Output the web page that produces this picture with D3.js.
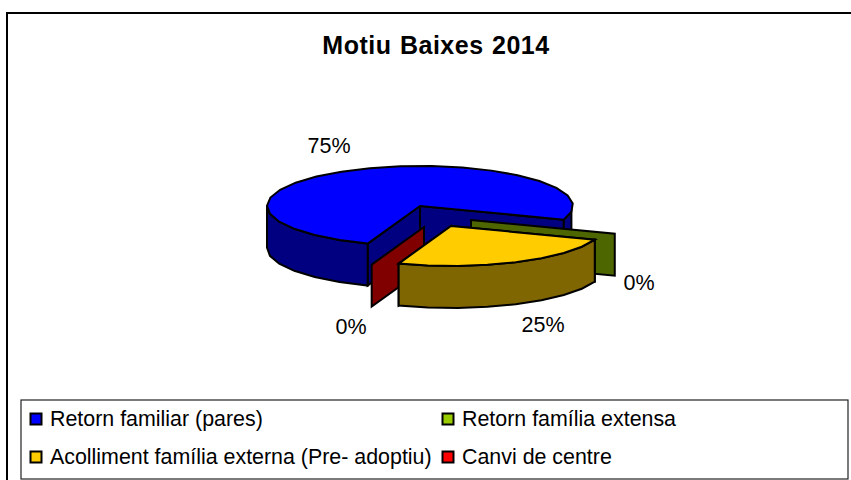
<!DOCTYPE html>
<html><head><meta charset="utf-8">
<script src="https://cdn.jsdelivr.net/npm/d3@7/dist/d3.min.js"></script>
<style>html,body{margin:0;padding:0;background:#fff}svg{display:block}text{font-family:"Liberation Sans",Arial,sans-serif;fill:#000}</style>
</head><body><svg id="c" width="851" height="480"></svg>
<script>
const chartTitle = "Motiu Baixes 2014";
const categories = ["Retorn familiar (pares)", "Retorn família extensa", "Acolliment família externa (Pre- adoptiu)", "Canvi de centre"];
const values = [75, 0, 25, 0];
const valueLabels = ["75%", "0%", "25%", "0%"];
const topColors = ["#0000FF", "#99CC00", "#FFCC00", "#FF0000"];
const sideColors = ["#000080", "#4D6600", "#806600", "#800000"];

const W = 851, H = 480;
const svg = d3.select("#c");
const cx = 420, cy = 206, rx = 153, ry = 40, depth = 42;
const offsets = [[0,0],[51,14],[31,20],[4,21]];
const labelPos = [[329,153],[639,290],[543,332],[351,334]];

const pie = d3.pie().sort(null).value(d => d)
  .startAngle(200 * Math.PI / 180).endAngle((200 + 360) * Math.PI / 180);
const arcs = pie(values);

const px = d3.scaleLinear().domain([-1, 1]).range([cx - rx, cx + rx]);
const py = d3.scaleLinear().domain([-1, 1]).range([cy - ry, cy + ry]);
const pt = (a, o, z = 0) => [px(Math.sin(a)) + o[0], py(-Math.cos(a)) + o[1] + z];
const centre = (o, z = 0) => [px(0) + o[0], py(0) + o[1] + z];
const rimAngles = (a0, a1) => {
  const n = Math.max(1, Math.round((a1 - a0) / (12 * Math.PI / 180)));
  return d3.range(n + 1).map(i => a0 + (a1 - a0) * i / n);
};
const line = d3.line();
const poly = (g, pts, fill) => g.append("path").attr("d", line(pts) + "Z")
  .attr("fill", fill).attr("stroke", "#000").attr("stroke-width", 2).attr("stroke-linejoin", "miter");

svg.append("rect").attr("x", 7).attr("y", 13).attr("width", W + 20).attr("height", H + 20)
  .attr("fill", "#fff").attr("stroke", "#000").attr("stroke-width", 2);

svg.append("text").attr("x", 436).attr("y", 54).attr("text-anchor", "middle")
  .attr("font-size", 25).attr("font-weight", "bold").attr("letter-spacing", 0.5).attr("word-spacing", 1).text(chartTitle);

const g = svg.append("g");

function drawSlice(i) {
  const d = arcs[i], o = offsets[i], top = topColors[i], side = sideColors[i];
  if (d.endAngle - d.startAngle < 1e-6) {
    poly(g, [centre(o), pt(d.startAngle, o), pt(d.startAngle, o, depth), centre(o, depth)], side);
    return;
  }
  const rim = rimAngles(d.startAngle, d.endAngle);
  poly(g, [centre(o), pt(d.endAngle, o), pt(d.endAngle, o, depth), centre(o, depth)], side);
  poly(g, [centre(o), pt(d.startAngle, o), pt(d.startAngle, o, depth), centre(o, depth)], side);
  const runs = [];
  let cur = [];
  rim.forEach(a => { if (Math.cos(a) < 0.02) cur.push(a); else { if (cur.length) runs.push(cur); cur = []; } });
  if (cur.length) runs.push(cur);
  runs.forEach(r => {
    poly(g, r.map(a => pt(a, o)).concat(r.slice().reverse().map(a => pt(a, o, depth))), side);
  });
  poly(g, [centre(o)].concat(rim.map(a => pt(a, o))), top);
}
drawSlice(0);
drawSlice(3);
drawSlice(1);
drawSlice(2);

valueLabels.forEach((t, i) => svg.append("text")
  .attr("x", labelPos[i][0]).attr("y", labelPos[i][1]).attr("text-anchor", "middle")
  .attr("font-size", 21.5).text(t));

const lg = svg.append("g");
lg.append("rect").attr("x", 21).attr("y", 400).attr("width", 827).attr("height", 79)
  .attr("fill", "#fff").attr("stroke", "#222").attr("stroke-width", 1.2);
const colX = d3.scaleOrdinal().domain([0, 1]).range([30, 442]);
const rowY = d3.scaleOrdinal().domain([0, 1]).range([419, 457]);
categories.forEach((c, i) => {
  const x = colX(i % 2), y = rowY(Math.floor(i / 2));
  lg.append("rect").attr("x", x + .5).attr("y", y - 5.5).attr("width", 11).attr("height", 11)
    .attr("fill", topColors[i]).attr("stroke", "#000").attr("stroke-width", 2);
  lg.append("text").attr("x", x + 20).attr("y", y + 7).attr("font-size", 21.4).text(c);
});
</script></body></html>
